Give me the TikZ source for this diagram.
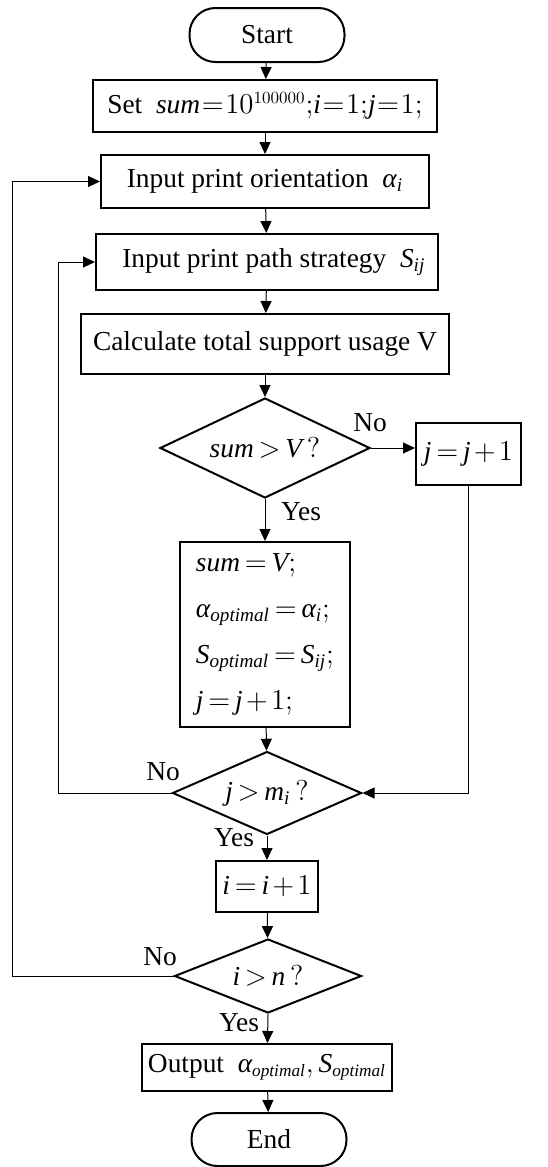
\documentclass[tikz,border=0pt]{standalone}
\usepackage{amsmath}
\usepackage{fontspec}
\setmainfont{Liberation Serif}
\usetikzlibrary{shapes.geometric,arrows.meta}
% italic variable names in the text face
\newcommand{\vr}[1]{\textit{#1}}
% tighter spacing round relations and operators
\thickmuskip=3mu
\medmuskip=2mu
\begin{document}
\begin{tikzpicture}[x=0.5pt, y=-0.5pt,
  every node/.style={font=\fontsize{13.7}{16}\selectfont},
  term/.style={draw, line width=1pt, rounded corners=13pt, minimum width=77.5pt, minimum height=27pt, inner sep=0pt},
  proc/.style={draw, line width=1pt, inner sep=0pt, align=center},
  dec/.style={draw, diamond, aspect=2.2, line width=1pt, inner sep=0pt},
  arr/.style={line width=0.5pt, -{Triangle[length=6pt, width=5.5pt]}},
  lbl/.style={inner sep=0pt}]
\useasboundingbox (0,0) rectangle (547,1167);
% main column
\node[term] (start) at (267,35) {Start};
\node[proc, minimum width=172pt, minimum height=26pt] (set) at (265,106)
  {Set \ $\vr{sum}\mskip1mu{=}\mskip1mu10^{\scalebox{0.85}{$\scriptstyle 100000$}};\!\vr{i}\mskip1mu{=}\mskip1mu1;\!\vr{j}\mskip1mu{=}\mskip1mu1;$};
\node[proc, minimum width=164pt, minimum height=26.5pt] (orient) at (265,181.5) {Input print orientation \ $\vr{α}_{\vr{i}}$};
\node[proc, minimum width=171pt, minimum height=28pt] (strat) at (267,262) {\ \ Input print path strategy \ $\vr{S}_{\vr{ij}}$};
\node[proc, minimum width=184pt, minimum height=30pt] (calc) at (265,344) {Calculate total support usage V};
\node[dec, minimum width=105pt, minimum height=50pt] (dsum) at (265,448) {$\vr{sum}>\vr{V}\,?$};
\node[proc, minimum width=52.5pt, minimum height=31pt] (jinc) at (468.5,454) {$\vr{j}=\vr{j}+1$};
\node[proc, minimum width=85pt, minimum height=92.5pt, align=left] (upd) at (265,634.5)
  {$\vr{sum}=\vr{V};$\\[7pt]$\vr{α}_{\vr{optimal}}=\vr{α}_{\vr{i}};$\\[7pt]$\vr{S}_{\vr{optimal}}=\vr{S}_{\vr{ij}};$\\[7pt]$\vr{j}=\vr{j}+1;$};
\node[dec, minimum width=94.5pt, minimum height=41.5pt] (djm) at (267,793) {$\vr{j}>\vr{m}_{\vr{i}}\,?$};
\node[proc, minimum width=51pt, minimum height=25.5pt] (iinc) at (267,886.5) {$\vr{i}=\vr{i}+1$};
\node[dec, minimum width=93.5pt, minimum height=37pt] (din) at (268,976) {$\vr{i}>\vr{n}\,?$};
\node[proc, minimum width=125pt, minimum height=23.5pt] (out) at (267,1067.5)
  {Output \ $\vr{α}_{\scalebox{0.9}{$\scriptstyle\vr{optimal}$}},\vr{S}_{\scalebox{0.9}{$\scriptstyle\vr{optimal}$}}$};
\node[term, minimum height=26.5pt] (end) at (269,1139.5) {End};
% branch labels
\node[lbl] (no1) at (370,423) {No};
\node[lbl] (yes1) at (301,512) {Yes};
\node[lbl] (no2) at (163,772) {No};
\node[lbl] (yes2) at (234,838) {Yes};
\node[lbl] (no3) at (160,957) {No};
\node[lbl] (yes3) at (239,1023) {Yes};
% loop corners
\coordinate (jback) at (58,793);
\coordinate (iback) at (12,976);
% connectors
\draw[arr] (start) -- (set);
\draw[arr] (set) -- (orient);
\draw[arr] (orient) -- (strat);
\draw[arr] (strat) -- (calc);
\draw[arr] (calc) -- (dsum);
\draw[arr] (dsum) -- (upd);
\draw[arr] (dsum.east) -- (dsum.east -| jinc.west);
\draw[arr] (jinc.south) |- (djm.east);
\draw[arr] (upd) -- (djm);
\draw[arr] (djm.west) -- (jback) |- (strat.west);
\draw[arr] (djm.south) -- (iinc);
\draw[arr] (iinc) -- (din);
\draw[arr] (din.west) -- (iback) |- (orient.west);
\draw[arr] (din.south) -- (out);
\draw[arr] (out) -- (end);
\end{tikzpicture}
\end{document}
